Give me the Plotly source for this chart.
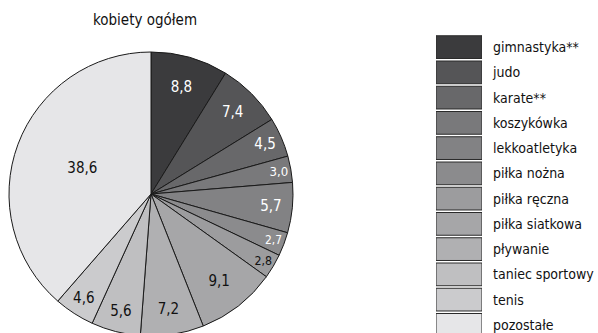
import plotly.graph_objects as go

categories = ["gimnastyka**", "judo", "karate**", "koszykówka", "lekkoatletyka",
              "piłka nożna", "piłka ręczna", "piłka siatkowa", "pływanie",
              "taniec sportowy", "tenis", "pozostałe"]
values = [8.8, 7.4, 4.5, 3.0, 5.7, 2.7, 2.8, 9.1, 7.2, 5.6, 4.6, 38.6]
legend_key = [1] * len(categories)
title_text = "kobiety ogółem"

colors = ["#3b3b3d", "#555557", "#68686a", "#79797b", "#828284", "#8b8b8d",
          "#9c9c9e", "#a6a6a8", "#b0b0b2", "#bfbfc1", "#cbcbcd", "#e6e6e8"]
text_colors = ["white"] * 6 + ["#111111"] * 6

W, H = 598, 340
FONT = "DejaVu Sans Condensed, Roboto, sans-serif"

fig = go.Figure()
fig.add_trace(go.Pie(
    labels=categories, values=values, sort=False, direction="clockwise",
    rotation=0,
    marker=dict(colors=colors, line=dict(color="#1a1a1a", width=1)),
    texttemplate="%{value:.1f}", textposition="inside",
    insidetextorientation="horizontal",
    insidetextfont=dict(color=text_colors, size=15, family=FONT),
    domain=dict(x=[9 / W, 293 / W], y=[(H - 336) / H, (H - 52) / H]),
    showlegend=False, hoverinfo="label+value",
))

fig.add_trace(go.Bar(
    y=categories, x=legend_key, orientation="h",
    marker=dict(color=colors, line=dict(color="#2a2a2a", width=1)),
    xaxis="x2", yaxis="y2", showlegend=False, hoverinfo="y",
    width=0.9,
))

fig.update_layout(
    width=W, height=H,
    margin=dict(l=0, r=0, t=0, b=0),
    paper_bgcolor="white", plot_bgcolor="white",
    separators=", ",
    font=dict(family=FONT, color="#111111"),
    xaxis2=dict(domain=[436 / W, 482 / W], range=[0, 1], visible=False,
                fixedrange=True),
    yaxis2=dict(domain=[(H - 337.5) / H, (H - 34.5) / H], side="right",
                anchor="x2", categoryorder="array", categoryarray=categories,
                autorange="reversed", showgrid=False, showline=False,
                ticks="", ticklabelstandoff=10,
                tickfont=dict(size=14, family=FONT, color="#111111")),
    annotations=[dict(text=title_text, x=145 / W, y=(H - 20) / H,
                      xref="paper", yref="paper", showarrow=False,
                      xanchor="center", yanchor="middle",
                      font=dict(size=15, family=FONT, color="#111111"))],
)

fig.write_html("out.html", config={"displayModeBar": False},
               post_script="document.body.style.margin='0';"
                           "document.body.style.overflow='hidden';"
                           "document.documentElement.style.overflow='hidden';")
